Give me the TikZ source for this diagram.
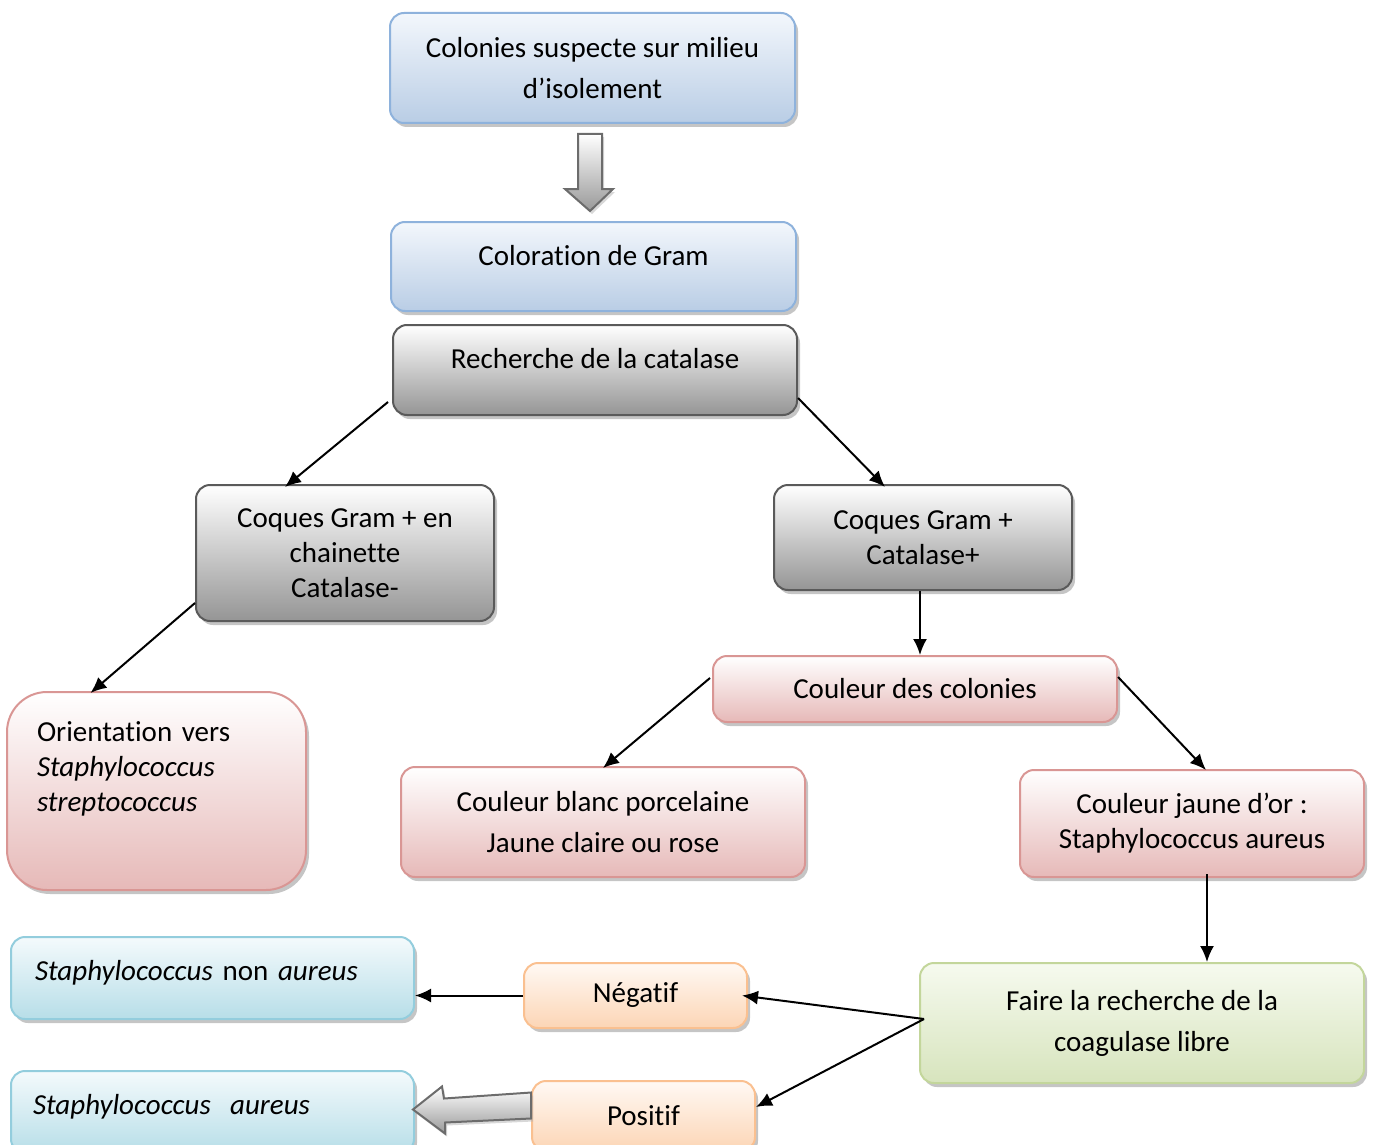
\documentclass[tikz,border=0pt]{standalone}
\usepackage{fontspec}
\setmainfont[Ligatures=NoCommon]{Carlito}
\usetikzlibrary{arrows.meta,shadows,calc}

\definecolor{bleuBord}{HTML}{8EB2DC}
\definecolor{bleuHaut}{HTML}{F3F7FC}
\definecolor{bleuBas}{HTML}{B9CDE5}
\definecolor{grisBord}{HTML}{5A5A5A}
\definecolor{grisHaut}{HTML}{FFFFFF}
\definecolor{grisBas}{HTML}{959595}
\definecolor{roseBord}{HTML}{D99694}
\definecolor{roseHaut}{HTML}{FFFFFF}
\definecolor{roseBas}{HTML}{E6B9B8}
\definecolor{vertBord}{HTML}{C3D69B}
\definecolor{vertHaut}{HTML}{F6FAEF}
\definecolor{vertBas}{HTML}{D7E4BD}
\definecolor{cyanBord}{HTML}{93CDDD}
\definecolor{cyanHaut}{HTML}{F4FAFC}
\definecolor{cyanBas}{HTML}{B7DEE8}
\definecolor{orangeBord}{HTML}{FAC090}
\definecolor{orangeHaut}{HTML}{FFF9F4}
\definecolor{orangeBas}{HTML}{FCD5B5}

\begin{document}
\begin{tikzpicture}[x=1pt,y=-1pt,
    boite/.style={rectangle,rounded corners=14pt,line width=2pt,align=center,inner sep=0pt,
      font=\fontsize{29}{35}\selectfont,
      drop shadow={shadow xshift=3pt,shadow yshift=-4pt,fill=black!45,opacity=.5}},
    boiteBleue/.style={boite,draw=bleuBord,top color=bleuHaut,bottom color=bleuBas},
    boiteGrise/.style={boite,draw=grisBord,top color=grisHaut,bottom color=grisBas},
    boiteRose/.style={boite,draw=roseBord,top color=roseHaut,bottom color=roseBas},
    boiteVerte/.style={boite,draw=vertBord,top color=vertHaut,bottom color=vertBas},
    boiteCyan/.style={boite,draw=cyanBord,top color=cyanHaut,bottom color=cyanBas},
    boiteOrange/.style={boite,draw=orangeBord,top color=orangeHaut,bottom color=orangeBas},
    fleche/.style={-{Latex[length=16pt,width=14pt]},line width=2pt},
    flecheBloc/.style={draw=gray!85!black,line width=2pt,top color=white,bottom color=gray!80,
      drop shadow={shadow xshift=2pt,shadow yshift=-3pt,fill=black!30,opacity=.5}}]

    \useasboundingbox (0,0) rectangle (1373,1145);

    % boites
    \node[boiteBleue,minimum width=405pt,minimum height=110pt] (colonies) at (592.5,68)
        {Colonies suspecte sur milieu\\[6pt]d’isolement};
    \node[boiteBleue,minimum width=405pt,minimum height=89pt,text depth=23pt] (gram) at (593.5,266.5)
        {Coloration de Gram};
    \node[boiteGrise,minimum width=404pt,minimum height=90pt,text depth=23pt] (catalase) at (595,370)
        {Recherche de la catalase};
    \node[boiteGrise,minimum width=298pt,minimum height=136pt] (chainette) at (345,553)
        {Coques Gram + en\\chainette\\Catalase-};
    \node[boiteGrise,minimum width=298pt,minimum height=105pt] (catplus) at (923,537.5)
        {Coques Gram +\\Catalase+};
    \node[boiteRose,rounded corners=40pt,minimum height=198pt,text width=239pt,inner xsep=30pt,
        align=left,text depth=119pt] (orientation) at (156.5,791)
        {Orientation vers\\\textit{Staphylococcus}\\\textit{streptococcus}};
    \node[boiteRose,minimum width=404pt,minimum height=66pt] (couleur) at (915,689)
        {Couleur des colonies};
    \node[boiteRose,minimum width=404pt,minimum height=110pt] (blanc) at (603,822)
        {Couleur blanc porcelaine\\[6pt]Jaune claire ou rose};
    \node[boiteRose,minimum width=344pt,minimum height=107pt] (jaune) at (1192,823.5)
        {Couleur jaune d’or :\\Staphylococcus aureus};
    \node[boiteVerte,minimum width=444pt,minimum height=120pt] (coagulase) at (1142,1023)
        {Faire la recherche de la\\[6pt]coagulase libre};
    \node[boiteCyan,minimum height=82pt,text width=355pt,inner xsep=24pt,align=left,
        text depth=15pt] (nonaureus) at (212.5,978)
        {\textit{Staphylococcus} non \textit{aureus}};
    \node[boiteOrange,minimum width=223pt,minimum height=65pt] (negatif) at (635.5,995.5)
        {Négatif};
    \node[boiteCyan,minimum height=82pt,text width=359pt,inner xsep=22pt,align=left,
        text depth=15pt] (aureus) at (212.5,1112)
        {\textit{Staphylococcus}\ \ \textit{aureus}};
    \node[boiteOrange,minimum width=223pt,minimum height=70pt] (positif) at (643.5,1116)
        {Positif};

    % fleches
    \draw[flecheBloc,shift={(colonies.south)}] (-14.5,10) -- (9.5,10) -- (9.5,65) -- (20.5,65)
        -- (-2.5,87) -- (-27.5,65) -- (-14.5,65) -- cycle;
    \draw[fleche] ([xshift=-4pt,yshift=14pt]catalase.south west) -- ([xshift=-60pt,yshift=-3pt]chainette.north);
    \draw[fleche] ([yshift=18pt]catalase.south east) -- ([xshift=-38pt,yshift=-3pt]catplus.north);
    \draw[fleche] ([yshift=19pt]chainette.south west) -- ([xshift=-66pt,yshift=-2pt]orientation.north);
    \draw[fleche] ([xshift=-3pt]catplus.south) -- ([xshift=-3pt]catplus.south |- couleur.north);
    \draw[fleche] ([xshift=-2pt,yshift=11pt]couleur.west) -- ([yshift=-2pt]blanc.north);
    \draw[fleche] ([yshift=12pt]couleur.east) -- ([xshift=14pt,yshift=-1pt]jaune.north);
    \draw[fleche] ([xshift=15pt,yshift=4pt]jaune.south) -- ([xshift=15pt]jaune.south |- coagulase.north);
    \coordinate (depart) at ([xshift=5pt,yshift=4pt]coagulase.west);
    \draw[fleche] (depart) -- ([xshift=-6pt]negatif.east);
    \draw[fleche] (depart) -- ([yshift=9pt]positif.east);
    \draw[fleche] (negatif.west) -- (nonaureus.east |- negatif.west);
    \draw[flecheBloc,shift={(positif.west)}] (0,-23.5) -- (-87,-17.5) -- (-89,-29.5) -- (-118,-6.5)
        -- (-86,17.5) -- (-86,6.5) -- (0,2.5) -- cycle;

\end{tikzpicture}
\end{document}
